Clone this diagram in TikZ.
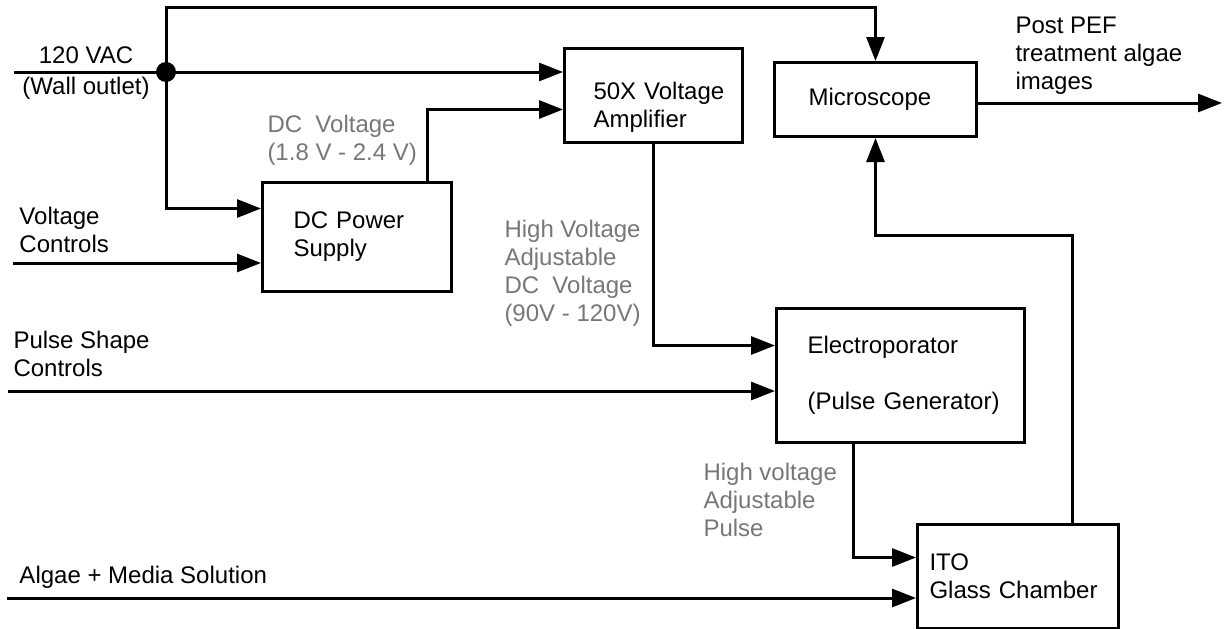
\documentclass[tikz,border=0pt]{standalone}
\usepackage{fontspec}
\setmainfont{Liberation Sans}
\usetikzlibrary{positioning, arrows.meta}
\definecolor{lblgray}{HTML}{777777}
\hfuzz=100pt

\begin{document}
\begin{tikzpicture}[x=1pt, y=-1pt, line width=3pt,
    font=\fontsize{24}{28}\selectfont,
    blk/.style={draw, rectangle, align=left, inner ysep=0pt, anchor=north west},
    arr/.style={-{Triangle[length=24pt, width=18pt]}},
    lbl/.style={inner sep=0pt, align=left, anchor=base west},
    sublbl/.style={lbl, text=lblgray},
    junc/.style={circle, fill, minimum size=20pt, inner sep=0pt}]
  \useasboundingbox (0,0) rectangle (1224,629);

  % blocks
  \node[blk, minimum width=189pt, minimum height=109pt, inner xsep=31pt, text width=127pt] (dcps) at (261,181) {DC Power\\Supply};
  \node[blk, minimum width=178pt, minimum height=94pt, inner xsep=29pt, text width=120pt] (amp) at (563,47) {\rule{0pt}{41pt}\mbox{50X Voltage}\\Amplifier};
  \node[blk, minimum width=202pt, minimum height=74pt, inner xsep=34pt, text width=134pt] (mic) at (773,61) {Microscope};
  \node[blk, minimum width=248pt, minimum height=134pt, inner xsep=31pt, text width=186pt] (elec) at (775,307) {Electroporator\\[28pt]\mbox{(Pulse Generator)}};
  \node[blk, minimum width=201pt, minimum height=104pt, inner xsep=12pt, text width=177pt] (chamber) at (916,523) {ITO\\Glass Chamber};

  \coordinate (in120) at (14,72);
  \coordinate (invc) at (13,263);
  \coordinate (inps) at (8,391);
  \coordinate (inalg) at (7,598);
  \coordinate (topl) at (166,7);
  \coordinate (bend) at (874,235);
  \coordinate (outimg) at (1222,103);
  \node[junc] (jn) at (166,72) {};

  % connectors
  \draw[arr] (in120) -- (jn.center) -- (amp.west |- jn.center);
  \draw[arr] (jn.center) -- (topl) -| (mic.north);
  \draw[arr] (jn.center) |- ([yshift=28.5pt]dcps.west);
  \draw[arr] (invc) -- (invc -| dcps.west);
  \draw[arr] ([xshift=70.5pt]dcps.north) |- ([yshift=-14pt]amp.west);
  \draw[arr] (amp.south) |- ([yshift=30pt]elec.west);
  \draw[arr] (inps) -- (inps -| elec.west);
  \draw[arr] ([xshift=-47pt]elec.south) |- ([yshift=19pt]chamber.west);
  \draw[arr] (inalg) -- (inalg -| chamber.west);
  \draw[arr] ([xshift=54.5pt]chamber.north) |- (bend) -| (mic.south);
  \draw[arr] (mic.east |- outimg) -- (outimg);

  % labels (anchored at the baseline of the last line)
  \node[lbl, align=center, anchor=base] (l120) at (86,94) {120 VAC\\[3pt](Wall outlet)};
  \node[lbl] (lvc) at (18,252) {Voltage\\Controls};
  \node[lbl] (lps) at (12,376) {Pulse Shape\\Controls};
  \node[lbl] (lalg) at (18,583) {Algae + Media Solution};
  \node[lbl] (lout) at (1014,89) {Post PEF\\treatment algae\\images};
  \node[sublbl] (ldc) at (266,160) {DC\ \ Voltage\\(1.8 V - 2.4 V)};
  \node[sublbl] (lhv) at (503,321) {High Voltage\\Adjustable\\DC\ \ Voltage\\(90V - 120V)};
  \node[sublbl] (lpulse) at (702,536) {High voltage\\Adjustable\\Pulse};
\end{tikzpicture}
\end{document}
